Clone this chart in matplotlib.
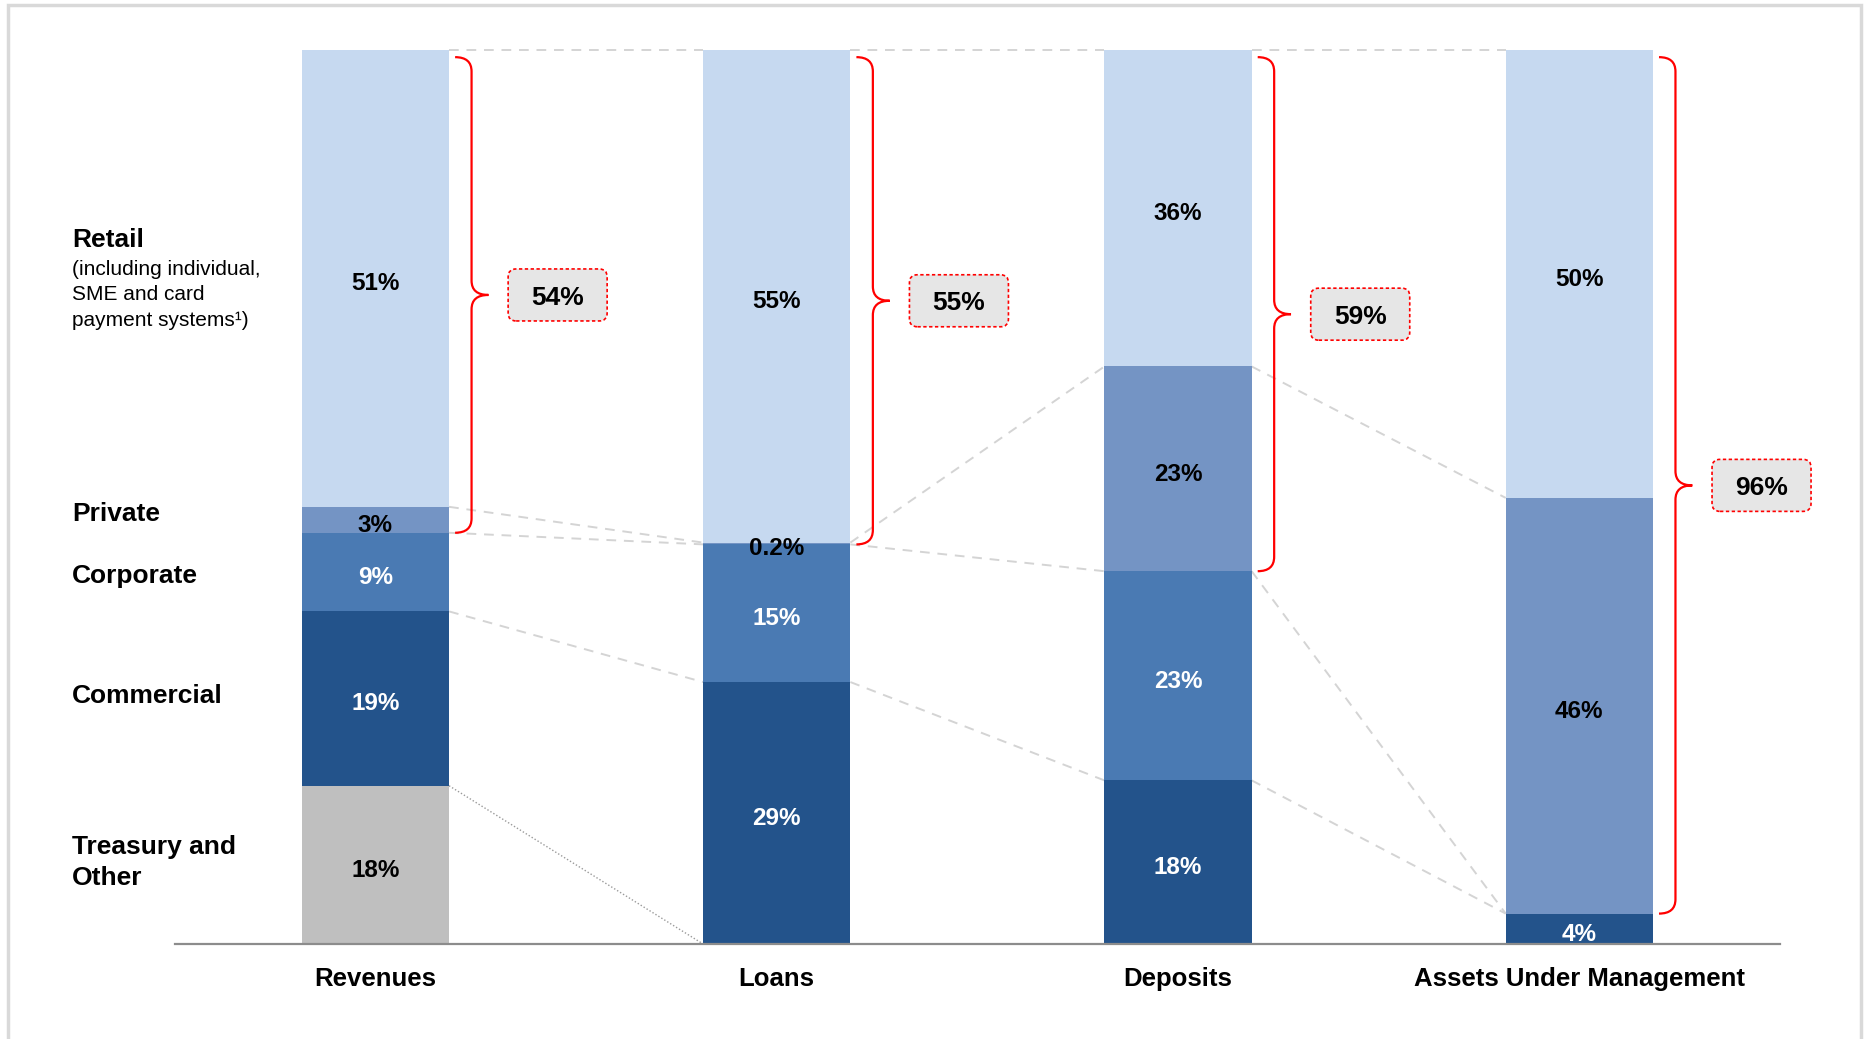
import matplotlib.pyplot as plt
from matplotlib.patches import Rectangle, FancyBboxPatch, PathPatch
from matplotlib.path import Path
from matplotlib.transforms import ScaledTranslation

plt.rcParams['font.family'] = ['Liberation Sans', 'DejaVu Sans']

# ---- data (shares in %) ----
metrics = ['Revenues', 'Loans', 'Deposits', 'Assets Under Management']
segments = ['Retail', 'Private', 'Corporate', 'Commercial', 'Treasury and Other']
revenues = [51.1, 2.9, 8.8, 19.5, 17.7]
loans = [55.1, 0.2, 15.4, 29.3, 0]
deposits = [35.4, 22.9, 23.4, 18.3, 0]
aum = [50.1, 46.5, 0, 3.4, 0]
revenue_labels = ['51%', '3%', '9%', '19%', '18%']
loan_labels = ['55%', '0.2%', '15%', '29%', '']
deposit_labels = ['36%', '23%', '23%', '18%', '']
aum_labels = ['50%', '46%', '', '4%', '']
retail_private_labels = ['54%', '55%', '59%', '96%']

values = [revenues, loans, deposits, aum]
labels = [revenue_labels, loan_labels, deposit_labels, aum_labels]

colors = ['#c6d9f0', '#7494c4', '#4a7ab3', '#23538b', '#bfbfbf']
text_colors = ['black', 'black', 'white', 'white', 'black']

fig = plt.figure(figsize=(18.65, 10.39), dpi=100)
ax = fig.add_axes([174.8 / 1865, 1 - 944 / 1039, (1780 - 174.8) / 1865, 894 / 1039])

w = 0.367
hw = w / 2

# cumulative tops of each segment (stack retail on top)
tops = []
for i, vals in enumerate(values):
    t = []
    for k in range(len(segments)):
        bottom = sum(vals[k + 1:])
        t.append(bottom + vals[k])
        if vals[k] > 0:
            ax.bar(i, vals[k], bottom=bottom, width=w, color=colors[k],
                   edgecolor='none', zorder=2)
        if labels[i][k]:
            ax.text(i, bottom + vals[k] / 2 - 0.6, labels[i][k], ha='center', va='center',
                    fontsize=17.5, fontweight='bold', color=text_colors[k], zorder=4)
    tops.append(t)

# connector lines between bars
for i in range(len(values) - 1):
    for k in range(len(segments)):
        y0, y1 = tops[i][k], tops[i + 1][k]
        if y0 == 0 and y1 == 0:
            continue
        if k == len(segments) - 1:
            ax.plot([i + hw, i + 1 - hw], [y0, y1], color='#9a9a9a', lw=1,
                    linestyle=(0, (1, 1.5)), zorder=1, clip_on=False)
        else:
            ax.plot([i + hw, i + 1 - hw], [y0, y1], color='#d4d4d4', lw=1.4,
                    linestyle=(0, (5, 4)), zorder=1, clip_on=False)

# red braces + boxes for retail+private share
for i, vals in enumerate(values):
    y0 = 99.2
    y1 = 100 - vals[0] - vals[1]
    ym = (y0 + y1) / 2
    xe, xs, xt = i + hw + 0.015, i + hw + 0.056, i + hw + 0.098
    r = 1.6
    verts = [(xe, y0), (xs, y0), (xs, y0 - r),
             (xs, ym + r), (xs, ym), (xt, ym),
             (xs, ym), (xs, ym - r),
             (xs, y1 + r), (xs, y1), (xe, y1)]
    codes = [Path.MOVETO, Path.CURVE3, Path.CURVE3,
             Path.LINETO, Path.CURVE3, Path.CURVE3,
             Path.CURVE3, Path.CURVE3,
             Path.LINETO, Path.CURVE3, Path.CURVE3]
    ax.add_patch(PathPatch(Path(verts, codes), fill=False, ec='#ff0000', lw=1.6,
                           zorder=3, clip_on=False))
    xc = i + 0.454
    tr = fig.dpi_scale_trans + ScaledTranslation(xc, ym, ax.transData)
    box = FancyBboxPatch((-0.495, -0.26), 0.99, 0.52,
                         boxstyle='round,pad=0,rounding_size=0.08',
                         fc='#e6e6e6', ec='#ff0000', lw=1.2, linestyle=(0, (2, 1.5)),
                         transform=tr, zorder=3, clip_on=False)
    ax.add_patch(box)
    ax.text(xc, ym - 0.3, retail_private_labels[i], ha='center', va='center',
            fontsize=19, fontweight='bold', zorder=4)

# segment names on the left
lx = -0.756
ax.text(lx, 78.7, 'Retail', fontsize=19, fontweight='bold', va='center', clip_on=False)
ax.text(lx, 75.5, '(including individual,', fontsize=15, va='center', clip_on=False)
ax.text(lx, 72.6, 'SME and card', fontsize=15, va='center', clip_on=False)
ax.text(lx, 69.7, 'payment systems\u00b9)', fontsize=15, va='center', clip_on=False)
ax.text(lx, 48.1, 'Private', fontsize=19, fontweight='bold', va='center', clip_on=False)
ax.text(lx, 41.2, 'Corporate', fontsize=19, fontweight='bold', va='center', clip_on=False)
ax.text(lx, 27.7, 'Commercial', fontsize=19, fontweight='bold', va='center', clip_on=False)
ax.text(lx, 9.1, 'Treasury and\nOther', fontsize=19, fontweight='bold', va='center',
        linespacing=1.38, clip_on=False)

ax.set_xlim(-0.5, 3.5)
ax.set_ylim(0, 100)
ax.set_xticks(range(len(metrics)))
ax.set_xticklabels(metrics, fontsize=18.5, fontweight='bold')
ax.tick_params(axis='x', length=0, pad=16.5)
ax.set_yticks([])
for s in ['top', 'left', 'right']:
    ax.spines[s].set_visible(False)
ax.spines['bottom'].set_color('#8c8c8c')
ax.spines['bottom'].set_linewidth(1.6)
ax.patch.set_alpha(0)

# outer frame
fig.add_artist(Rectangle((8 / 1865, -0.1), (1861 - 8) / 1865, 1 - 5 / 1039 + 0.1,
                         transform=fig.transFigure, fill=False, ec='#d9d9d9', lw=2.5))

fig.savefig('out.png', dpi=100)
